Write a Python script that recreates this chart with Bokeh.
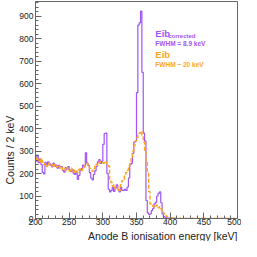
import numpy as np
from bokeh.plotting import figure
from bokeh.models import Range1d, SingleIntervalTicker, Label, Title
from bokeh.embed import file_html
from bokeh.resources import INLINE

bin_edges = list(range(200, 502, 2))

eib_corrected = [
    255, 282, 248, 265, 240, 205, 198, 250, 238, 252,
    244, 236, 230, 246, 233, 238, 224, 236, 228, 231,
    214, 206, 226, 219, 231, 216, 208, 218, 200, 196,
    208, 174, 192, 214, 222, 238, 230, 292, 246, 236,
    204, 180, 172, 196, 212, 232, 252, 262, 245, 255,
    330, 378, 380, 200, 130, 118, 125, 140, 120, 135,
    150, 128, 118, 140, 125, 125, 130, 125, 140, 180,
    240, 245, 290, 340, 345, 560, 860, 870, 922, 650,
    380, 345, 80, 25, 18, 20, 35, 45, 65, 72,
    100, 112, 118, 70, 20, 8, 6, 3, 2, 2,
    1, 0, 2, 0, 1, 0, 0, 1, 0, 0,
    0, 1, 0, 0, 0, 0, 1, 0, 0, 0,
    0, 0, 0, 1, 0, 0, 0, 0, 0, 0,
    1, 0, 0, 0, 0, 0, 0, 0, 1, 0,
    0, 0, 0, 0, 0, 0, 0, 0, 0, 0,
]

eib = [
    262, 270, 258, 248, 265, 250, 240, 245, 232, 246,
    238, 242, 236, 230, 240, 228, 232, 236, 222, 228,
    218, 222, 214, 226, 216, 210, 224, 212, 206, 215,
    210, 204, 218, 222, 214, 226, 232, 238, 244, 236,
    224, 218, 210, 222, 232, 240, 236, 248, 252, 250,
    246, 254, 250, 242, 232, 175, 160, 145, 150, 132,
    128, 140, 125, 150, 168, 175, 190, 205, 215, 235,
    250, 270, 300, 325, 345, 360, 370, 380, 388, 370,
    340, 300, 250, 210, 120, 65, 58, 55, 50, 56,
    60, 48, 52, 42, 35, 22, 15, 10, 7, 5,
    3, 2, 1, 2, 1, 1, 0, 1, 0, 0,
    1, 0, 0, 0, 1, 0, 0, 0, 0, 1,
    0, 0, 0, 0, 0, 1, 0, 0, 0, 0,
    0, 0, 1, 0, 0, 0, 0, 0, 0, 0,
    0, 0, 0, 0, 1, 0, 0, 0, 0, 0,
]

PURPLE = "#a055f5"
ORANGE = "#ffa51f"
FONT = "Liberation Sans"

p = figure(width=241, height=241, output_backend="svg", toolbar_location=None,
           x_range=Range1d(200, 500), y_range=Range1d(0, 965),
           min_border_left=0, min_border_right=4, min_border_top=1,
           min_border_bottom=0)
p.background_fill_color = "white"
p.border_fill_color = "white"
p.outline_line_color = "#666666"
p.xgrid.visible = False
p.ygrid.visible = False

ys_c = eib_corrected + [eib_corrected[-1]]
ys_o = eib + [eib[-1]]
p.step(bin_edges, ys_c, mode="after", line_color=PURPLE, line_width=1.2)
p.step(bin_edges, ys_o, mode="after", line_color=ORANGE, line_width=1.5,
       line_dash="4 2")

for ax, interval in ((p.xaxis[0], 50), (p.yaxis[0], 100)):
    ax.ticker = SingleIntervalTicker(interval=interval, num_minor_ticks=5)
    ax.axis_line_color = "#666666"
    ax.major_tick_line_color = "#666666"
    ax.minor_tick_line_color = "#666666"
    ax.major_tick_in = 6
    ax.major_tick_out = 0
    ax.minor_tick_in = 3
    ax.minor_tick_out = 0
    ax.major_label_text_font = FONT
    ax.major_label_text_font_size = "8.5px"
    ax.major_label_text_color = "#222222"
    ax.major_label_standoff = 2
p.xaxis[0].major_label_standoff = 0

p.add_layout(Title(text="Anode B ionisation energy [keV]", align="right",
                   text_font=FONT, text_font_size="10.5px", text_font_style="normal",
                   text_color="#222222", standoff=0, text_line_height=1.0), "below")
p.add_layout(Title(text="Counts / 2 keV", align="left", offset=34,
                   text_font=FONT, text_font_size="10.5px", text_font_style="normal",
                   text_color="#222222", standoff=2), "left")

p.add_layout(Label(x=378, y=821, text="Eib", text_align="left", text_baseline="middle",
                   text_font=FONT, text_font_size="9.5px", text_font_style="bold",
                   text_color=PURPLE))
p.add_layout(Label(x=397, y=810, text="corrected", text_align="left", text_baseline="middle",
                   text_font=FONT, text_font_size="6px", text_font_style="bold",
                   text_color=PURPLE))
p.add_layout(Label(x=378, y=777, text="FWHM = 8.9 keV", text_align="left", text_baseline="middle",
                   text_font=FONT, text_font_size="6.5px", text_font_style="bold",
                   text_color=PURPLE))
p.add_layout(Label(x=378, y=729, text="Eib", text_align="left", text_baseline="middle",
                   text_font=FONT, text_font_size="9.5px", text_font_style="bold",
                   text_color=ORANGE))
p.add_layout(Label(x=378, y=686, text="FWHM ~ 20 keV", text_align="left", text_baseline="middle",
                   text_font=FONT, text_font_size="6.5px", text_font_style="bold",
                   text_color=ORANGE))

open("out.html", "w").write(file_html(p, INLINE))
